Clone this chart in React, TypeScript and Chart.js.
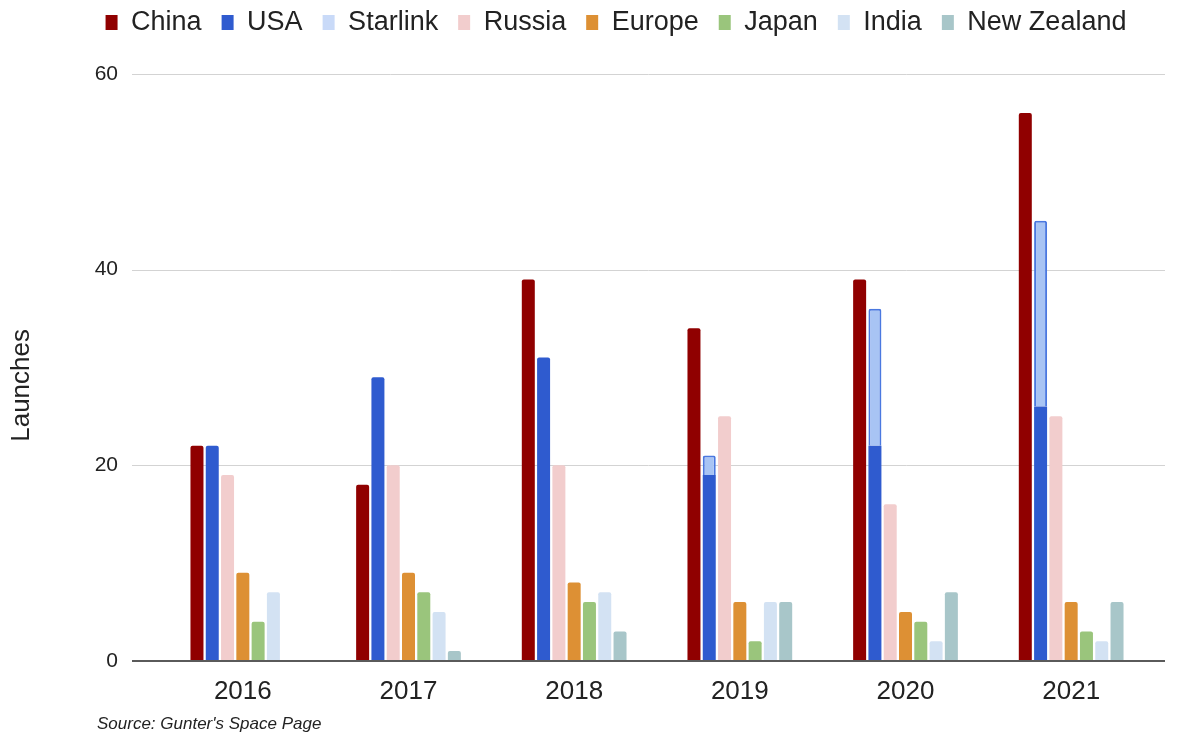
import React, { useEffect, useRef } from "react";
import { Chart, registerables } from "chart.js";

Chart.register(...registerables);

const years = ["2016", "2017", "2018", "2019", "2020", "2021"];
const china = [22, 18, 39, 34, 39, 56];
const usa = [22, 29, 31, 19, 22, 26];
const starlink = [null, null, null, 2, 14, 19];
const russia = [19, 20, 20, 25, 16, 25];
const europe = [9, 9, 8, 6, 5, 6];
const japan = [4, 7, 6, 2, 4, 3];
const india = [7, 5, 7, 6, 2, 2];
const newZealand = [0, 1, 3, 6, 7, 6];
const yTicks = [0, 20, 40, 60];
const axisTitle = "Launches";
const sourceNote = "Source: Gunter's Space Page";

const FONT = "'Liberation Sans', Arial, sans-serif";
const GRID = "#d3d3d3";
const BASE = "#5a5a5a";

function lineAt(ctx: any, x0: number, x1: number, py: number, color: string, w: number) {
  ctx.beginPath();
  ctx.strokeStyle = color;
  ctx.lineWidth = w;
  ctx.moveTo(x0, py);
  ctx.lineTo(x1, py);
  ctx.stroke();
}

const gridPlugin = {
  id: "gridPlugin",
  afterLayout(chart: any) {
    const lg = chart.legend;
    if (lg) {
      lg.left += 36;
      lg.right += 36;
      lg.top -= 28;
      lg.bottom -= 28;
    }
  },
  beforeDatasetsDraw(chart: any) {
    const { ctx, chartArea, scales } = chart;
    const y = scales.y;
    ctx.save();
    y.ticks.forEach((t: any) => {
      if (t.value === 0) return;
      const py = Math.round(y.getPixelForValue(t.value)) + 0.5;
      lineAt(ctx, chartArea.left - 28, chartArea.right + 11, py, GRID, 1);
    });
    ctx.restore();
  },
  afterDatasetsDraw(chart: any) {
    const { ctx, chartArea, scales } = chart;
    const y = scales.y;
    ctx.save();
    const py = Math.round(y.getPixelForValue(0));
    lineAt(ctx, chartArea.left - 28, chartArea.right + 11, py, BASE, 2);
    // axis title
    ctx.translate(22, (chartArea.top + chartArea.bottom) / 2 + 18);
    ctx.rotate(-Math.PI / 2);
    ctx.font = `26px ${FONT}`;
    ctx.fillStyle = "#222";
    ctx.textAlign = "center";
    ctx.textBaseline = "middle";
    ctx.fillText(axisTitle, 0, 0);
    ctx.restore();
  },
};

function ds(label: string, data: any[], color: string, stack: string, legendColor?: string, border?: string) {
  return {
    label,
    data,
    backgroundColor: color,
    borderColor: border || color,
    borderWidth: border ? 2 : 0,
    borderRadius: 2,
    borderSkipped: "bottom",
    stack,
    legendColor: legendColor || color,
    categoryPercentage: 0.646,
    barPercentage: 0.85,
  };
}

export default function App() {
  const ref = useRef<HTMLCanvasElement>(null);
  useEffect(() => {
    if (!ref.current) return;
    const chart = new Chart(ref.current, {
      type: "bar",
      data: {
        labels: years,
        datasets: [
          ds("China", china, "#900000", "a"),
          ds("USA", usa, "#2f5bcf", "b"),
          ds("Starlink", starlink, "#a8c4f4", "b", "#c9daf8", "#4a78e0"),
          ds("Russia", russia, "#f2cdcd", "c"),
          ds("Europe", europe, "#dd9034", "d"),
          ds("Japan", japan, "#9ac57c", "e"),
          ds("India", india, "#d3e2f3", "f"),
          ds("New Zealand", newZealand, "#a8c6c9", "g"),
        ] as any,
      },
      options: {
        animation: false,
        responsive: false,
        layout: { padding: { left: 6, right: 26, top: 0, bottom: 11 } },
        plugins: {
          legend: {
            position: "top",
            labels: {
              font: { family: FONT, size: 27 },
              color: "#222",
              boxWidth: 12,
              boxHeight: 15,
              padding: 20,
              generateLabels: (c: any) => {
                const items = Chart.defaults.plugins.legend.labels.generateLabels(c);
                return items.map((it: any, i: number) => ({
                  ...it,
                  fillStyle: (c.data.datasets[i] as any).legendColor,
                  strokeStyle: (c.data.datasets[i] as any).legendColor,
                  lineWidth: 0,
                }));
              },
            },
          },
          tooltip: { enabled: false },
        },
        scales: {
          x: {
            stacked: true,
            grid: { display: false, drawTicks: false },
            border: { display: false },
            ticks: {
              font: { family: FONT, size: 26 },
              color: "#222",
              padding: 15,
              maxRotation: 0,
              autoSkip: false,
            },
          },
          y: {
            stacked: true,
            min: 0,
            max: 60,
            afterBuildTicks: (s: any) => {
              s.ticks = yTicks.map((v) => ({ value: v }));
            },
            afterFit: (s: any) => {
              s.width = 154;
              s.paddingTop = 74;
            },
            grid: {
              color: "rgba(0,0,0,0)",
              drawTicks: true,
              tickLength: 28,
            },
            border: { display: false },
            ticks: {
              font: { family: FONT, size: 21 },
              color: "#222",
              padding: 14,
            },
          },
        },
      },
      plugins: [gridPlugin],
    });
    return () => chart.destroy();
  }, []);
  return (
    <div style={{ position: "absolute", left: 0, top: 0, width: 1180, height: 733, background: "#fff" }}>
      <canvas ref={ref} width={1180} height={733} style={{ display: "block" }} />
      <div
        style={{
          position: "absolute",
          left: 97,
          top: 715,
          fontFamily: FONT,
          fontStyle: "italic",
          fontSize: 17,
          lineHeight: "17px",
          color: "#222",
          whiteSpace: "nowrap",
        }}
      >
        {sourceNote}
      </div>
    </div>
  );
}
